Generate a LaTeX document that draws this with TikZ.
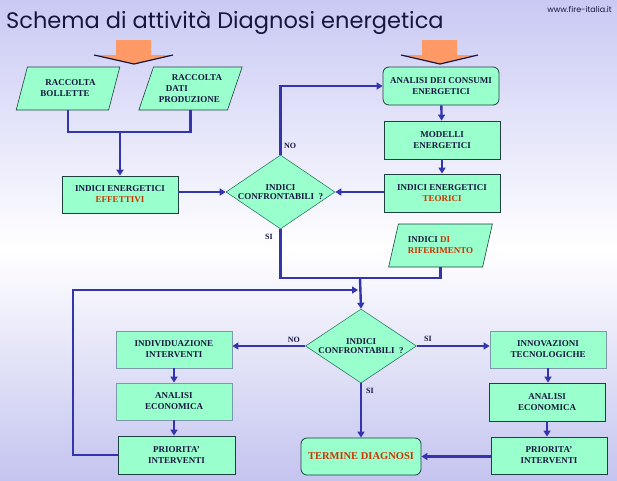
\documentclass[tikz,border=0pt]{standalone}
\usepackage{fontspec}
\setmainfont{Liberation Serif}
\newfontfamily\titlefont{Poppins}
\usetikzlibrary{shapes.geometric,arrows.meta}
\definecolor{mint}{HTML}{99FFCC}
\definecolor{boxedge}{HTML}{1E4040}
\definecolor{softedge}{HTML}{7A9AAA}
\definecolor{diamedge}{HTML}{2E7A6A}
\definecolor{flowblue}{HTML}{3434AC}
\definecolor{navytext}{HTML}{161640}
\definecolor{redtext}{HTML}{CC3300}
\definecolor{blockorange}{HTML}{FF9966}
\definecolor{lavtop}{HTML}{C9C9F4}
\definecolor{lavbot}{HTML}{C4C4F0}
\begin{document}
\begin{tikzpicture}[x=1pt,y=-1pt,
  >={Triangle[length=6pt,width=7pt]},
  flow/.style={draw=flowblue,line width=2.4pt},
  box/.style={draw=boxedge,fill=mint,line width=0.8pt,minimum width=116pt,
    minimum height=37pt,align=center,text=navytext,inner sep=1pt,
    font=\bfseries\fontsize{9}{11}\selectfont},
  softbox/.style={box,draw=softedge},
  roundbox/.style={box,rounded corners=6pt},
  para/.style={trapezium,trapezium left angle=66,trapezium right angle=114,
    trapezium stretches=true,draw=boxedge,fill=mint,line width=0.6pt,
    minimum width=104pt,minimum height=43pt,inner sep=0pt,align=left,
    text=navytext,font=\bfseries\fontsize{9}{11}\selectfont},
  decide/.style={diamond,draw=diamedge,fill=mint,line width=0.6pt,
    minimum width=109pt,minimum height=74pt,inner sep=0pt,align=center,
    text=navytext,font=\bfseries\fontsize{9}{9.5}\selectfont},
  tag/.style={font=\bfseries\fontsize{8}{9}\selectfont,text=navytext,inner sep=0pt}]
  % background
  \shade[shading=axis,shading angle=180,top color=lavtop,bottom color=white] (0,0) rectangle (617,250);
  \shade[shading=axis,shading angle=180,top color=white,bottom color=lavbot] (0,250) rectangle (617,480);
  \useasboundingbox (0,0) rectangle (617,480);
  % title
  \node[anchor=base west,inner sep=0pt,text=navytext,font=\titlefont\fontsize{22.5}{26}\selectfont]
    (title) at (6,28) {Schema di attività Diagnosi energetica};
  \node[anchor=base east,inner sep=0pt,text=navytext,font=\titlefont\fontsize{8}{9}\selectfont]
    (web) at (612,12) {www.fire-italia.it};
  % input arrows
  \filldraw[fill=blockorange,draw=none]
    (116,40) -- (151,40) -- (151,55) -- (173,55) -- (134,64) -- (94,55) -- (116,55) -- cycle;
  \draw[navytext,line width=1.2pt] (94,55) -- (134,64) -- (173,55);
  \filldraw[fill=blockorange,draw=none]
    (422,40) -- (457,40) -- (457,55) -- (478,55) -- (440,64) -- (401,55) -- (422,55) -- cycle;
  \draw[navytext,line width=1.2pt] (401,55) -- (440,64) -- (478,55);
  % upper part
  \node[para] (bollette) at (68,88.5) {\hspace*{5pt}RACCOLTA\\BOLLETTE};
  \node[para] (dati) at (190.5,88.5) {\hspace*{13pt}RACCOLTA\\\hspace*{7pt}DATI\\PRODUZIONE};
  \node[box] (effettivi) at (120,194.5) {INDICI ENERGETICI\\\textcolor{redtext}{EFFETTIVI}};
  \node[decide] (dec1) at (280.5,192) {\makebox[0pt]{INDICI}\\\makebox[0pt]{CONFRONTABILI\ \ ?}};
  \node[roundbox,minimum height=38pt] (analisi) at (441,86) {ANALISI DEI CONSUMI\\ENERGETICI};
  \node[box,minimum height=38pt] (modelli) at (442,140) {MODELLI\\ENERGETICI};
  \node[box,minimum height=38pt] (teorici) at (442,193) {INDICI ENERGETICI\\\textcolor{redtext}{TEORICI}};
  \node[para] (rif) at (440.5,245.5) {INDICI \textcolor{redtext}{DI}\\\textcolor{redtext}{RIFERIMENTO}};
  % lower part
  \node[decide,minimum width=111pt] (dec2) at (361,346) {\makebox[0pt]{INDICI}\\\makebox[0pt]{CONFRONTABILI\ \ ?}};
  \node[softbox] (indiv) at (174,349.5) {INDIVIDUAZIONE\\INTERVENTI};
  \node[softbox] (eco1) at (174,401.5) {ANALISI\\ECONOMICA};
  \node[box,minimum width=117pt,minimum height=38pt] (prio1) at (176.5,455) {PRIORITA'\\INTERVENTI};
  \node[softbox] (innov) at (548,349.5) {INNOVAZIONI\\TECNOLOGICHE};
  \node[box,minimum height=38pt] (eco2) at (547,402) {ANALISI\\ECONOMICA};
  \node[box] (prio2) at (549,455.5) {PRIORITA'\\INTERVENTI};
  \node[roundbox,minimum width=120pt,text=redtext,font=\bfseries\fontsize{10.5}{12}\selectfont]
    (termine) at (361,456.5) {TERMINE DIAGNOSI};
  % joints
  \coordinate (join1) at (120,132);
  \coordinate (merge) at (360,278);
  \coordinate (loop) at (73,290);
  % connectors, upper part
  \draw[flow] (bollette.south) |- (join1) -| (dati.south);
  \draw[flow,->] (join1) -- (effettivi.north);
  \draw[flow,->] (effettivi.east |- dec1.west) -- (dec1.west);
  \draw[flow,->] (dec1.north) |- (analisi.west);
  \draw[flow,->] (analisi) -- (modelli);
  \draw[flow,->] (modelli) -- (teorici);
  \draw[flow,->] (teorici.west |- dec1.east) -- (dec1.east);
  \draw[flow] (dec1.south) |- (merge);
  \draw[flow] (rif.south) |- (merge);
  \draw[flow,->] (merge) -- (dec2.north);
  \node[tag,anchor=west] (no1) at (284,146) {NO};
  \node[tag,anchor=east] (si1) at (273,237) {SI};
  % connectors, lower part
  \draw[flow,->] (prio1.west) -| (loop) -- ([xshift=-3pt]loop -| dec2.north);
  \draw[flow,->] (dec2.west) -- (indiv.east |- dec2.west);
  \draw[flow,->] (dec2.east) -- (innov.west |- dec2.east);
  \draw[flow,->] (dec2.south) -- (termine.north);
  \draw[flow,line width=2pt,->] (indiv) -- (eco1);
  \draw[flow,line width=2pt,->] (eco1) -- (prio1.north -| eco1.south);
  \draw[flow,line width=2pt,->] (innov) -- (innov.south |- eco2.north);
  \draw[flow,line width=2pt,->] (eco2) -- (eco2.south |- prio2.north);
  \draw[flow,->] (prio2.west |- termine.east) -- (termine.east);
  \node[tag,anchor=east] (no2) at (300,340) {NO};
  \node[tag,anchor=west] (si2) at (424,339) {SI};
  \node[tag,anchor=west] (si3) at (366,391) {SI};
\end{tikzpicture}
\end{document}
